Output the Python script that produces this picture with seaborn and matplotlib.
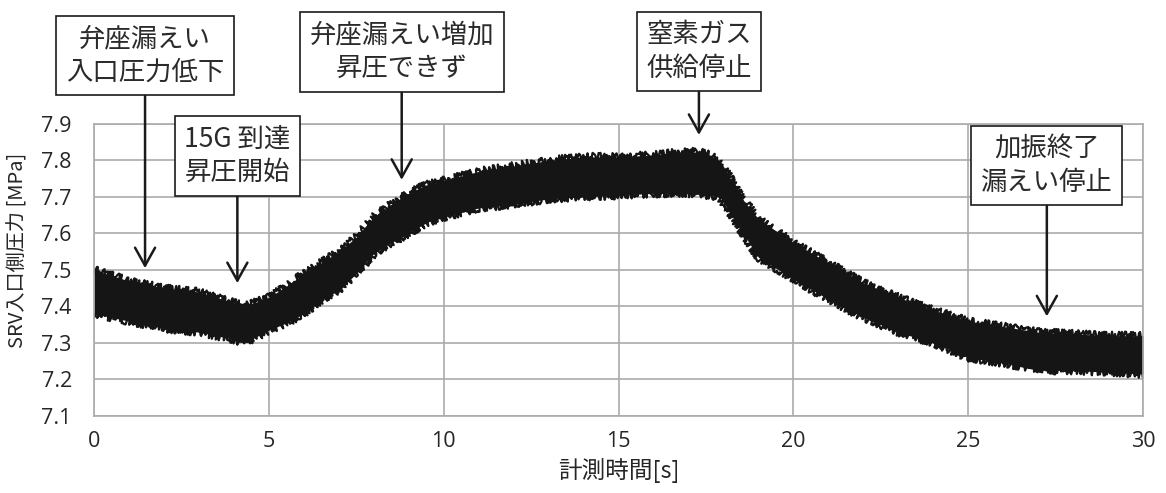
import matplotlib
matplotlib.use("Agg")
import matplotlib.pyplot as plt
import seaborn as sns
import pandas as pd

# ---- data (envelope of the noisy pressure trace) ----
time_s = [0, 1, 2, 3, 4, 4.3, 5, 5.5, 6, 6.5, 7, 7.5, 8, 8.5, 9, 9.5, 10, 11,
          12, 13, 14, 15, 16, 17, 17.5, 17.9, 18.5, 19, 20, 21, 22, 23, 24,
          25, 26, 27, 28, 29, 30]
p_upper = [7.50, 7.47, 7.45, 7.44, 7.41, 7.40, 7.425, 7.455, 7.49, 7.52, 7.55,
           7.59, 7.645, 7.68, 7.71, 7.733, 7.745, 7.77, 7.785, 7.80, 7.81,
           7.81, 7.815, 7.825, 7.82, 7.80, 7.70, 7.64, 7.575, 7.52, 7.465,
           7.425, 7.39, 7.36, 7.345, 7.33, 7.325, 7.32, 7.32]
p_lower = [7.38, 7.36, 7.34, 7.33, 7.31, 7.30, 7.335, 7.355, 7.38, 7.417,
           7.445, 7.49, 7.545, 7.575, 7.60, 7.63, 7.645, 7.67, 7.68, 7.695,
           7.70, 7.705, 7.71, 7.71, 7.705, 7.70, 7.61, 7.535, 7.475, 7.42,
           7.37, 7.33, 7.30, 7.26, 7.245, 7.225, 7.225, 7.22, 7.215]

x_ticks = [0, 5, 10, 15, 20, 25, 30]
y_ticks = [7.1, 7.2, 7.3, 7.4, 7.5, 7.6, 7.7, 7.8, 7.9]
y_tick_labels = ["7.1", "7.2", "7.3", "7.4", "7.5", "7.6", "7.7", "7.8", "7.9"]

ann_labels = ["弁座漏えい\n入口圧力低下", "15G 到達\n昇圧開始",
              "弁座漏えい増加\n昇圧できず", "窒素ガス\n供給停止",
              "加振終了\n漏えい停止"]
ann_tip_x = [1.46, 4.1, 8.8, 17.3, 27.25]
ann_tip_y = [7.505, 7.464, 7.747, 7.87, 7.373]

x_label = "計測時間[s]"
y_label = "SRV入口側圧力 [MPa]"

# ---- figure ----
sns.set_style("white")
CJK = ["Noto Sans CJK JP", "DejaVu Sans"]
TICKF = ["Open Sans", "DejaVu Sans"]
W, H = 1166, 493
BAND = "#151515"
fig = plt.figure(figsize=(W / 100, H / 100), dpi=100)
ax = fig.add_axes([94 / W, 1 - 416 / H, 1049 / W, 292 / H])

df = pd.DataFrame({"t": time_s + time_s, "p": p_upper + p_lower})
sns.lineplot(data=df, x="t", y="p", estimator="mean", errorbar=("pi", 100),
             color=BAND, lw=0, ax=ax,
             err_kws={"alpha": 1, "linewidth": 0, "facecolor": BAND})
# band edges drawn with a jittery (sketch) line style to mimic the signal noise
sns.lineplot(x=time_s, y=p_upper, color=BAND, lw=1.6, ax=ax)
sns.lineplot(x=time_s, y=p_lower, color=BAND, lw=1.6, ax=ax)
for ln in ax.lines:
    ln.set_sketch_params(scale=4, length=1.0, randomness=3)

ax.set_xlim(0, 30)
ax.set_ylim(7.1, 7.9)
ax.set_xticks(x_ticks)
ax.set_xticklabels([str(v) for v in x_ticks])
ax.set_yticks(y_ticks)
ax.set_yticklabels(y_tick_labels)
for lab in ax.get_xticklabels() + ax.get_yticklabels():
    lab.set_family(TICKF)
    lab.set_fontsize(15.5)
    lab.set_color("#262626")
ax.tick_params(axis="x", length=0, pad=11)
ax.tick_params(axis="y", length=0, pad=16)

grid_c = "#ababab"
ax.grid(True, color=grid_c, lw=1.2)
ax.set_axisbelow(True)
for s in ax.spines.values():
    s.set_visible(True)
    s.set_color(grid_c)
    s.set_linewidth(1.2)

ax.set_xlabel(x_label, family=CJK, fontsize=17, color="#262626")
ax.xaxis.set_label_coords(0.5, -0.145)
ax.set_ylabel(y_label, family=CJK, fontsize=14.5, color="#262626")
ax.yaxis.set_label_coords(-0.062, 0.568)

# ---- annotations (box positions in figure pixels from top) ----
box_y_px = [55.5, 156, 52, 51.5, 165.5]
for lab, tx, ty, by in zip(ann_labels, ann_tip_x, ann_tip_y, box_y_px):
    ax.annotate(lab, xy=(tx, ty), xytext=(tx, 1 - by / H),
                textcoords=("data", "figure fraction"),
                ha="center", va="center", family=CJK, fontsize=19,
                color="#2a2a2a", linespacing=1.32, annotation_clip=False,
                zorder=10,
                bbox=dict(boxstyle="square,pad=0.36", fc="white",
                          ec="#1a1a1a", lw=1.2),
                arrowprops=dict(arrowstyle="->,head_length=0.68,head_width=0.38",
                                lw=1.8, color="#1a1a1a", relpos=(0.5, 0),
                                shrinkA=0, shrinkB=0))

fig.savefig("out.png", dpi=100)
